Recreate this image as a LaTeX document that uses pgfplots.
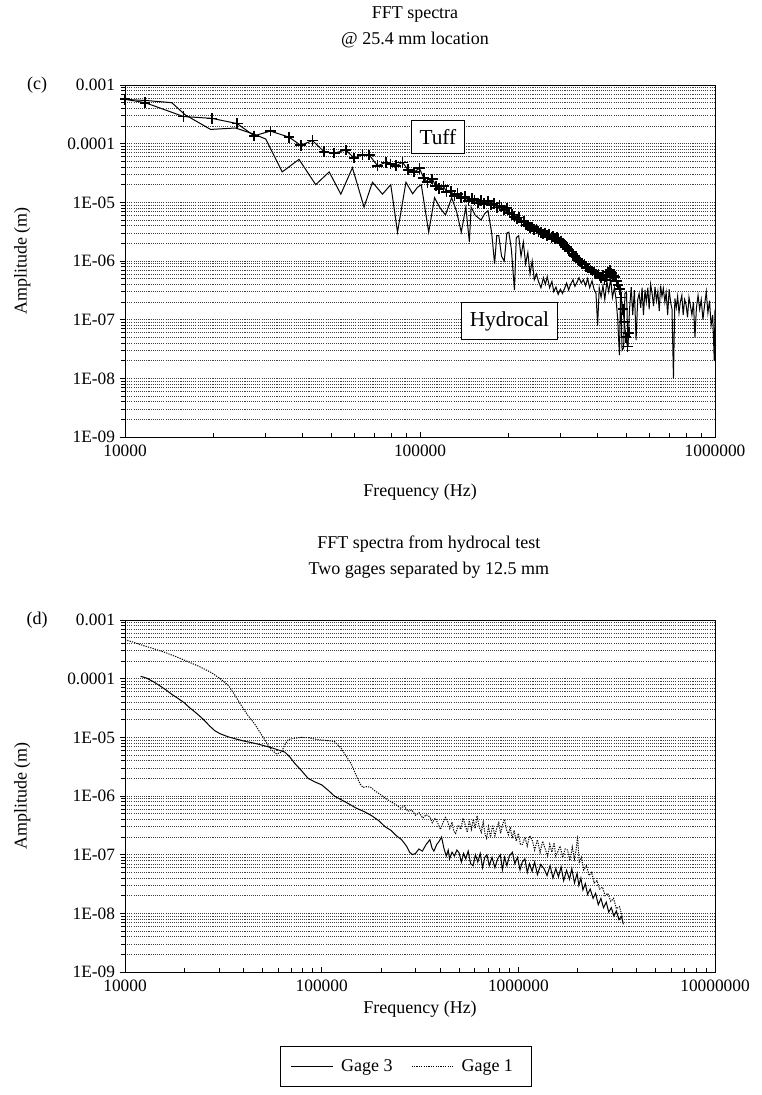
\documentclass[border=0pt]{standalone}
\usepackage{fontspec}
\setmainfont{Liberation Serif}
\usepackage{pgfplots}
\pgfplotsset{compat=1.18}

% 1 px of the reference = 0.75pt
\tikzset{
  dataline/.style={black, line width=0.75pt},
  boxlab/.style={draw=black, fill=white, line width=0.7pt, inner xsep=6pt, inner ysep=6.5pt,
                 font=\fontsize{16}{18}\selectfont},
  gridline/.style={dash pattern=on 0.8pt off 0.8pt, black!75, line width=0.4pt},
}

\begin{document}
\begin{tikzpicture}
\useasboundingbox (0,0) rectangle (570.75pt,-821.25pt);

% ---------------- (c) ----------------
\begin{axis}[
  at={(93.75pt,-63.75pt)}, anchor=north west,
  scale only axis, width=442.5pt, height=264pt,
  clip mode=individual,
  xmode=log, ymode=log,
  xmin=1e4, xmax=1e6, ymin=1e-9, ymax=1e-3,
  xtick={1e4,1e5,1e6}, xticklabels={10000,100000,1000000},
  ytick={1e-9,1e-8,1e-7,1e-6,1e-5,1e-4,1e-3},
  yticklabels={1E-09,1E-08,1E-07,1E-06,1E-05,0.0001,0.001},
  ymajorgrids, yminorgrids, grid style={gridline},
  xtick pos=left, ytick pos=left,
  xtick align=inside, ytick align=outside,
  major tick length=4pt, minor tick length=3pt,
  tick style={black, line width=0.5pt},
  axis line style={black, line width=0.75pt},
  tick label style={font=\fontsize{13}{15}\selectfont},
  xticklabel style={yshift=-2.5pt},
  label style={font=\fontsize{13.5}{15}\selectfont},
  ylabel={Amplitude (m)}, xlabel={Frequency (Hz)},
  ylabel style={at={(axis description cs:-0.174,0.5)}, anchor=center},
  xlabel style={at={(axis description cs:0.5,-0.156)}, anchor=center},
  title={FFT spectra\\@ 25.4 mm location},
  title style={at={(axis description cs:0.4915,1.141)}, anchor=center, align=center,
               font=\fontsize{13.5}{19}\selectfont},
]
% Hydrocal
\addplot[dataline] coordinates {
(10000,5.7e-4)(12000,5.4e-4)(14400,5.0e-4)(16000,3.1e-4)(19500,1.75e-4)(23700,1.85e-4)
(27400,1.45e-4)(30000,1.2e-4)(34100,3.3e-5)(38900,5.4e-5)(44300,2.0e-5)(49200,3.3e-5)
(53900,1.38e-5)(59000,3.9e-5)(64600,8.3e-6)(69000,2.2e-5)(74600,1.38e-5)(79600,2.0e-5)
(83900,3.1e-6)(89600,2.2e-5)(94400,1.4e-5)(98000,1.8e-5)(101000,2.0e-5)(107000,3.1e-6)
(112000,1.2e-5)(117000,8e-6)(122000,6.1e-6)(128000,1.2e-5)(133000,7e-6)(138000,3.1e-6)
(143000,8.3e-6)(147000,2.1e-6)(149000,8.3e-6)(154000,6e-6)(161000,5e-6)(166000,6.5e-6)
(170000,7.2e-6)(175000,3e-6)(179000,8.9e-7)(182000,2.7e-6)(185000,2.7e-6)(189000,1.2e-6)
(193000,1.0e-6)(197000,3.0e-6)(200000,3.1e-6)(204000,1.6e-6)(207000,6e-7)(209000,3.2e-7)
(212000,2.5e-6)(216000,2.7e-6)(220000,1.2e-6)(224000,2.1e-6)(228000,9e-7)(232000,1.4e-6)
(236000,6e-7)(240000,1.0e-6)(244000,4.8e-7)(248000,6e-7)(252000,4.5e-7)(257000,3.5e-7)
(262000,5.2e-7)(266000,4.0e-7)(270000,5.4e-7)(275000,3.5e-7)(280000,4.5e-7)(284000,3.0e-7)
(289000,3.6e-7)(294000,2.7e-7)(299000,3.3e-7)(304000,2.8e-7)(309000,3.4e-7)(314000,4.2e-7)
(319000,3.2e-7)(324000,4.0e-7)(330000,4.8e-7)(335000,3.7e-7)(341000,4.4e-7)(346000,5.2e-7)
(352000,4.2e-7)(358000,4.8e-7)(364000,3.8e-7)(370000,5.0e-7)(376000,3.5e-7)(383000,4.6e-7)
(389000,3.3e-7)(395000,2.8e-7)(400000,8e-8)(405000,3.5e-7)(411000,2.4e-7)(417000,3.8e-7)
(423000,2.2e-7)(430000,4.5e-7)(436000,3.0e-7)(443000,5.0e-7)(449000,2.4e-7)(456000,3.5e-7)
(462000,2.2e-7)(468000,1.0e-7)(474000,2.5e-8)(479000,3.5e-7)(484000,3.0e-8)(490000,3.3e-8)
(495000,2.8e-7)(501000,3.0e-7)(507000,3.5e-8)(513000,1.5e-7)(520000,3.6e-7)(526000,1.2e-7)
(533000,3.2e-7)(540000,4.5e-8)(547000,2.2e-7)(553000,2.8e-7)(560000,1.6e-7)(566000,3.5e-7)
(572000,1.2e-7)(579000,3.2e-7)(585000,2.0e-7)(592000,3.5e-7)(598000,1.5e-7)(605000,4.0e-7)
(612000,2.8e-7)(619000,1.7e-7)(626000,3.6e-7)(633000,2.1e-7)(640000,3.0e-7)(647000,1.4e-7)
(654000,3.8e-7)(661000,2.5e-7)(668000,3.4e-7)(676000,2.0e-7)(683000,2.9e-7)(691000,1.2e-7)
(699000,3.3e-7)(707000,2.0e-7)(715000,1.5e-7)(723000,1.0e-8)(731000,2.3e-7)(739000,1.6e-7)
(747000,2.5e-7)(755000,1.3e-7)(763000,2.0e-7)(772000,2.6e-7)(780000,1.2e-7)(789000,2.2e-7)
(798000,1.8e-7)(807000,1.1e-7)(816000,2.4e-7)(826000,1.7e-7)(835000,1.2e-7)(845000,2.0e-7)
(855000,5e-8)(865000,1.6e-7)(876000,2.6e-7)(887000,1.5e-7)(898000,2.2e-7)(910000,1.0e-7)
(922000,1.8e-7)(934000,3.0e-7)(946000,1.3e-7)(958000,2.1e-7)(970000,8e-8)(982000,1.2e-7)
(994000,2.0e-8)(1000000,1.5e-7)
};
% Tuff
\addplot[black, line width=0.75pt, mark=+, mark size=4pt,
         mark options={line width=1.3pt, solid}] coordinates {
(10000,5.7e-4)(11700,5.0e-4)(15800,2.9e-4)(19700,2.7e-4)(24000,2.2e-4)(27400,1.36e-4)
(31100,1.64e-4)(36000,1.29e-4)(39400,9.4e-5)(43200,1.13e-4)(47300,7.3e-5)(51200,6.9e-5)
(56000,7.8e-5)(59800,5.7e-5)(63900,6.5e-5)(67300,6.4e-5)(71800,4.2e-5)(76600,4.8e-5)
(79500,4.5e-5)(82800,4.2e-5)(87300,4.8e-5)(91000,3.6e-5)(95600,3.3e-5)(99500,3.8e-5)
(103000,2.6e-5)(106000,2.2e-5)(110000,2.5e-5)(113000,1.9e-5)(116000,1.7e-5)(120000,1.9e-5)
(123000,1.5e-5)(127000,1.55e-5)(131000,1.3e-5)(134000,1.4e-5)(138000,1.2e-5)(142000,1.25e-5)
(146000,1.05e-5)(150000,1.15e-5)(153000,1.1e-5)(157000,9.8e-6)(161000,1.08e-5)(165000,9.5e-6)
(170000,1.06e-5)(174000,9.0e-6)(178000,9.6e-6)(182000,8.2e-6)(186000,8.8e-6)(189000,8.3e-6)
(193000,7.4e-6)(197000,7.9e-6)(201000,6.6e-6)(205000,6.2e-6)(209000,5.7e-6)(213000,5.2e-6)
(217000,5.5e-6)(221000,4.6e-6)(225000,4.8e-6)(229000,4.1e-6)(232000,4.0e-6)(236000,3.7e-6)
(240000,3.8e-6)(244000,3.4e-6)(248000,3.5e-6)(252000,3.2e-6)(257000,3.1e-6)(261000,2.9e-6)
(265000,3.0e-6)(270000,2.7e-6)(274000,2.8e-6)(279000,2.5e-6)(283000,2.6e-6)(287000,2.4e-6)
(291000,2.5e-6)(295000,2.4e-6)(300000,2.2e-6)(304000,2.0e-6)(308000,1.9e-6)(312000,1.75e-6)
(316000,1.6e-6)(320000,1.5e-6)(326000,1.45e-6)(330000,1.3e-6)(334000,1.2e-6)(338000,1.15e-6)
(342000,1.05e-6)(346000,1.0e-6)(350000,9.6e-7)(355000,9.0e-7)(361000,8.9e-7)(366000,8.0e-7)
(372000,7.6e-7)(378000,7.0e-7)(384000,6.8e-7)(390000,6.4e-7)(396000,6.0e-7)(403000,6.0e-7)
(410000,5.2e-7)(416000,5.6e-7)(422000,4.8e-7)(428000,5.4e-7)(434000,6.5e-7)(440000,7.0e-7)
(446000,6.2e-7)(452000,5.6e-7)(457000,5.4e-7)(463000,4.5e-7)(469000,3.9e-7)(475000,3.3e-7)
(481000,2.4e-7)(487000,1.5e-7)(493000,9e-8)(499000,5e-8)(505000,3.5e-8)(510000,6e-8)
};
\node[boxlab] at (axis cs:115000,1.3e-4) {Tuff};
\node[boxlab] at (axis cs:201000,9.5e-8) {Hydrocal};
\node[anchor=center, font=\fontsize{13.5}{15}\selectfont] at (axis description cs:-0.149,1) {(c)};
\end{axis}

% ---------------- (d) ----------------
\begin{axis}[
  at={(93.75pt,-465pt)}, anchor=north west,
  scale only axis, width=442.5pt, height=264pt,
  clip mode=individual,
  xmode=log, ymode=log,
  xmin=1e4, xmax=1e7, ymin=1e-9, ymax=1e-3,
  xtick={1e4,1e5,1e6,1e7}, xticklabels={10000,100000,1000000,10000000},
  ytick={1e-9,1e-8,1e-7,1e-6,1e-5,1e-4,1e-3},
  yticklabels={1E-09,1E-08,1E-07,1E-06,1E-05,0.0001,0.001},
  ymajorgrids, yminorgrids, grid style={gridline},
  xtick pos=left, ytick pos=left,
  xtick align=inside, ytick align=outside,
  major tick length=4pt, minor tick length=3pt,
  tick style={black, line width=0.5pt},
  axis line style={black, line width=0.75pt},
  tick label style={font=\fontsize{13}{15}\selectfont},
  xticklabel style={yshift=-2.5pt},
  label style={font=\fontsize{13.5}{15}\selectfont},
  ylabel={Amplitude (m)}, xlabel={Frequency (Hz)},
  ylabel style={at={(axis description cs:-0.174,0.5)}, anchor=center},
  xlabel style={at={(axis description cs:0.5,-0.105)}, anchor=center},
  title={FFT spectra from hydrocal test\\Two gages separated by 12.5 mm},
  title style={at={(axis description cs:0.515,1.156)}, anchor=center, align=center,
               font=\fontsize{13.5}{19}\selectfont},
  legend columns=2,
  legend style={at={(axis description cs:0.476,-0.268)}, anchor=center,
                draw=black, line width=0.7pt, inner xsep=8pt, inner ysep=8pt,
                font=\fontsize{13.5}{15}\selectfont,
                nodes={inner xsep=6pt},
                /tikz/every even column/.append style={column sep=8pt}},
  legend image code/.code={\draw[#1] (0pt,0pt) -- (31pt,0pt);},
]
% Gage 3
\addplot[dataline] coordinates {
(12000,1.1e-4)(12900,1.02e-4)(14000,8.8e-5)(15000,7.6e-5)(16200,6.4e-5)(17300,5.4e-5)
(18600,4.6e-5)(20000,3.9e-5)(21300,3.2e-5)(22700,2.7e-5)(24000,2.3e-5)(25500,1.9e-5)
(27000,1.55e-5)(28600,1.3e-5)(30500,1.15e-5)(33500,1.02e-5)(37000,9.3e-6)(40500,8.6e-6)
(45000,8.0e-6)(49500,7.4e-6)(56000,6.6e-6)(61000,6.0e-6)(65000,5.6e-6)(69000,4.6e-6)
(73000,3.6e-6)(79000,2.7e-6)(85300,2.0e-6)(92000,1.75e-6)(100000,1.55e-6)(108000,1.25e-6)
(116000,1.0e-6)(126000,8.6e-7)(136000,7.5e-7)(150000,6.2e-7)(165000,5.4e-7)(180000,4.6e-7)
(195000,3.8e-7)(210000,3.0e-7)(225000,2.6e-7)(240000,2.1e-7)(255000,1.8e-7)(270000,1.4e-7)
(280000,1.1e-7)(290000,1.0e-7)(300000,1.05e-7)(312000,1.25e-7)(325000,1.15e-7)(340000,1.5e-7)
(355000,1.8e-7)(364000,1.3e-7)(372000,1.15e-7)(385000,1.5e-7)(396000,1.7e-7)(407000,2.0e-7)
(418000,1.3e-7)(430000,9.5e-8)(440000,1.2e-7)(447000,8.5e-8)(460000,1.1e-7)(473000,9.5e-8)
(487000,1.2e-7)(500000,1.07e-7)(513000,7.5e-8)(527000,1.05e-7)(540000,8.5e-8)(556000,1.15e-7)
(572000,7.0e-8)(589000,6.5e-8)(605000,1.0e-7)(622000,7.5e-8)(640000,1.05e-7)(658000,6.0e-8)
(675000,9.0e-8)(692000,1.0e-7)(712000,6.5e-8)(735000,9.0e-8)(760000,6.0e-8)(785000,8.5e-8)
(810000,1.0e-7)(830000,5.5e-8)(851000,9.0e-8)(875000,6.5e-8)(900000,9.5e-8)(933000,1.1e-7)
(960000,7.0e-8)(990000,9.0e-8)(1020000,5.5e-8)(1047000,7.5e-8)(1080000,8.5e-8)(1110000,5.0e-8)
(1140000,7.0e-8)(1175000,5.2e-8)(1210000,7.5e-8)(1250000,4.6e-8)(1300000,6.8e-8)(1350000,5.8e-8)
(1400000,4.4e-8)(1450000,6.5e-8)(1500000,4.0e-8)(1550000,5.8e-8)(1600000,4.2e-8)(1650000,6.2e-8)
(1700000,3.6e-8)(1760000,5.4e-8)(1820000,3.8e-8)(1870000,5.8e-8)(1930000,3.3e-8)(1990000,4.8e-8)
(2030000,3.0e-8)(2080000,4.0e-8)(2130000,2.5e-8)(2190000,3.2e-8)(2250000,2.1e-8)(2320000,2.6e-8)
(2400000,1.8e-8)(2470000,2.2e-8)(2550000,1.4e-8)(2630000,1.8e-8)(2710000,1.25e-8)(2800000,1.55e-8)
(2880000,1.05e-8)(2970000,1.25e-8)(3060000,9.0e-9)(3150000,1.1e-8)(3250000,7.8e-9)(3350000,8.8e-9)
(3420000,6.5e-9)
};
\addlegendentry{Gage 3}
% Gage 1
\addplot[black, line width=0.75pt, dash pattern=on 0.9pt off 0.9pt] coordinates {
(10000,4.6e-4)(11000,4.2e-4)(12300,3.7e-4)(14200,3.2e-4)(16000,2.8e-4)(18300,2.35e-4)
(20900,1.95e-4)(24000,1.6e-4)(27500,1.27e-4)(30500,1.0e-4)(33500,7.7e-5)(36000,5.4e-5)
(39000,3.5e-5)(42000,2.4e-5)(45600,1.7e-5)(49500,1.1e-5)(53300,7.4e-6)(56000,6.0e-6)
(59000,5.2e-6)(62400,5.6e-6)(65000,7.5e-6)(67600,9.2e-6)(72000,9.6e-6)(79000,1.0e-5)
(86000,9.8e-6)(93000,9.3e-6)(100000,9.0e-6)(108000,8.8e-6)(116000,8.5e-6)(121000,7.4e-6)
(126000,6.4e-6)(133000,4.8e-6)(141000,3.6e-6)(147000,2.6e-6)(152000,2.0e-6)(157000,1.6e-6)
(162000,1.4e-6)(170000,1.45e-6)(178000,1.4e-6)(188000,1.2e-6)(200000,1.05e-6)(212000,9.0e-7)
(225000,8.0e-7)(240000,7.0e-7)(252000,6.2e-7)(263000,6.8e-7)(274000,5.5e-7)(287000,5.8e-7)
(300000,4.7e-7)(313000,5.2e-7)(327000,4.2e-7)(340000,4.8e-7)(355000,4.4e-7)(365000,3.5e-7)
(378000,4.2e-7)(390000,3.4e-7)(402000,2.7e-7)(415000,3.6e-7)(426000,4.3e-7)(436000,3.8e-7)
(448000,2.8e-7)(460000,3.6e-7)(470000,2.5e-7)(480000,2.3e-7)(495000,3.2e-7)(510000,2.7e-7)
(523000,4.2e-7)(537000,3.2e-7)(550000,2.4e-7)(563000,3.8e-7)(577000,2.7e-7)(590000,4.0e-7)
(603000,2.8e-7)(617000,4.6e-7)(632000,3.0e-7)(648000,2.4e-7)(663000,3.6e-7)(678000,2.2e-7)
(690000,1.9e-7)(705000,3.0e-7)(722000,2.0e-7)(740000,3.2e-7)(760000,2.1e-7)(778000,2.9e-7)
(795000,3.5e-7)(812000,2.3e-7)(830000,3.2e-7)(850000,4.0e-7)(870000,2.7e-7)(890000,2.2e-7)
(910000,3.0e-7)(930000,1.9e-7)(952000,2.6e-7)(975000,1.7e-7)(1000000,2.3e-7)(1025000,1.5e-7)
(1050000,1.5e-7)(1080000,2.0e-7)(1110000,1.4e-7)(1140000,2.1e-7)(1175000,1.8e-7)(1210000,1.2e-7)
(1250000,1.8e-7)(1290000,1.1e-7)(1330000,1.7e-7)(1370000,1.25e-7)(1410000,9.5e-8)(1445000,1.5e-7)
(1480000,1.1e-7)(1520000,1.6e-7)(1550000,9.5e-8)(1585000,1.1e-7)(1630000,1.4e-7)(1680000,9.0e-8)
(1730000,1.25e-7)(1780000,1.2e-7)(1830000,8.0e-8)(1880000,1.35e-7)(1930000,8.5e-8)(1970000,1.25e-7)
(2000000,2.1e-7)(2040000,7.2e-8)(2090000,9.0e-8)(2150000,5.5e-8)(2220000,6.5e-8)(2290000,4.4e-8)
(2360000,5.0e-8)(2430000,3.3e-8)(2510000,3.6e-8)(2590000,2.6e-8)(2680000,2.8e-8)(2760000,2.0e-8)
(2850000,2.2e-8)(2950000,1.6e-8)(3050000,1.8e-8)(3150000,1.2e-8)(3270000,1.3e-8)(3390000,8.3e-9)
};
\addlegendentry{Gage 1}
\node[anchor=center, font=\fontsize{13.5}{15}\selectfont] at (axis description cs:-0.149,1) {(d)};
\end{axis}
\end{tikzpicture}
\end{document}
